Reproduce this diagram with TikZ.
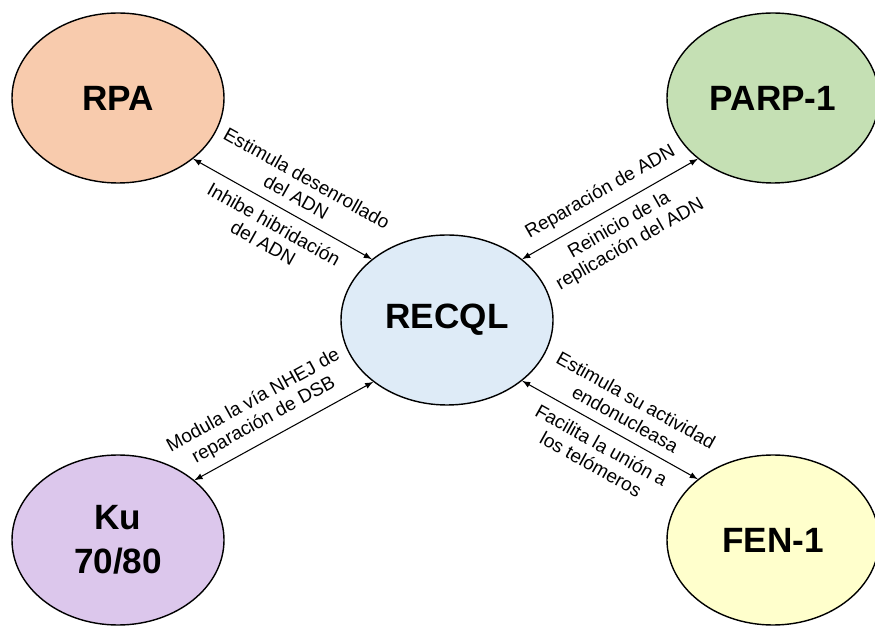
\documentclass[tikz,border=0pt]{standalone}
\usepackage{fontspec}
\setmainfont{Liberation Sans}
\usetikzlibrary{arrows,shapes,positioning}
\definecolor{rpacol}{HTML}{F8CBAD}
\definecolor{parpcol}{HTML}{C5E0B4}
\definecolor{recqlcol}{HTML}{DEEBF7}
\definecolor{kucol}{HTML}{DCC7EC}
\definecolor{fencol}{HTML}{FFFFCC}

\begin{document}
\begin{tikzpicture}[lbl/.style={font=\fontsize{10.8}{12.4}\selectfont, align=center, inner sep=5.5pt, sloped}]
\tikzstyle{prot}=[ellipse, draw, thick, minimum width=4.24cm, minimum height=3.4cm, inner sep=0pt, align=center, font=\fontsize{20}{25}\selectfont\bfseries]
\useasboundingbox (0,0) rectangle (17.5,12.5);
\node[prot, fill=recqlcol] (recql) at (8.94,6.10){RECQL};
\node[prot, fill=rpacol] (rpa) at (2.36,10.54){RPA};
\node[prot, fill=parpcol] (parp) at (15.46,10.54){PARP-1};
\node[prot, fill=kucol] (ku) at (2.36,1.70){Ku\\70/80};
\node[prot, fill=fencol] (fen) at (15.46,1.70){FEN-1};
\foreach \i/\a/\j/\b/\p/\up/\dn in {rpa/-39/recql/141/0.53/{Estimula desenrollado\\del ADN}/{Inhibe hibridación\\del ADN},
  recql/39/parp/-141/0.5/{Reparación de ADN}/{Reinicio de la\\replicación del ADN},
  ku/38/recql/-140/0.44/{Modula la vía NHEJ de\\reparación de DSB}/{},
  recql/-39/fen/141/0.54/{Estimula su actividad\\endonucleasa}/{Facilita la unión a\\los telómeros}}{
\draw[latex-latex, line width=0.6pt] (\i.\a) -- node[lbl, above, pos=\p]{\up} node[lbl, below]{\dn} (\j.\b);
}
\end{tikzpicture}
\end{document}
